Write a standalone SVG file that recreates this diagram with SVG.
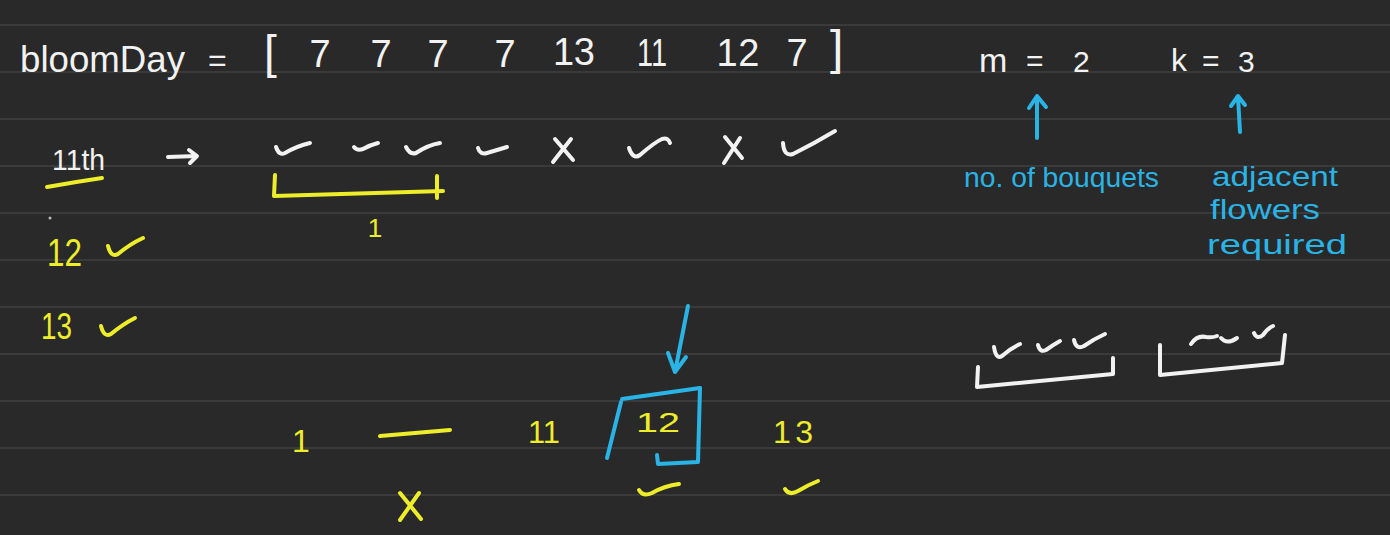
<svg xmlns="http://www.w3.org/2000/svg" width="1390" height="535" viewBox="0 0 1390 535">
<defs>
<style>
.rule{stroke:#3a3a3a;stroke-width:2}
.t{font-family:"Liberation Sans",Arial,sans-serif}
.w{fill:#f2f2f2}
.y{fill:#eded2a}
.b{fill:#2ab4e6}
.sw{fill:none;stroke:#f2f2f2;stroke-width:4;stroke-linecap:round;stroke-linejoin:round}
.sy{fill:none;stroke:#eded2a;stroke-width:4;stroke-linecap:round;stroke-linejoin:round}
.sb{fill:none;stroke:#2ab4e6;stroke-width:4;stroke-linecap:round;stroke-linejoin:round}
</style>
</defs>
<rect width="1390" height="535" fill="#292929"/>
<g id="rules">
<line class="rule" x1="0" y1="25" x2="1390" y2="25"/>
<line class="rule" x1="0" y1="72" x2="1390" y2="72"/>
<line class="rule" x1="0" y1="119" x2="1390" y2="119"/>
<line class="rule" x1="0" y1="166" x2="1390" y2="166"/>
<line class="rule" x1="0" y1="213" x2="1390" y2="213"/>
<line class="rule" x1="0" y1="260" x2="1390" y2="260"/>
<line class="rule" x1="0" y1="307" x2="1390" y2="307"/>
<line class="rule" x1="0" y1="354" x2="1390" y2="354"/>
<line class="rule" x1="0" y1="401" x2="1390" y2="401"/>
<line class="rule" x1="0" y1="448" x2="1390" y2="448"/>
<line class="rule" x1="0" y1="495" x2="1390" y2="495"/>
</g>
<g id="bloomDay">
<text class="t w" x="20" y="72" font-size="37" textLength="165" lengthAdjust="spacingAndGlyphs">bloomDay</text>
<text class="t w" x="208" y="71" font-size="32">=</text>
<text class="t w" x="264" y="68" font-size="46">[</text>
<g font-size="38" text-anchor="middle" class="t w">
<text x="320" y="67">7</text>
<text x="381" y="67">7</text>
<text x="438" y="67">7</text>
<text x="505" y="67">7</text>
<text x="574" y="65" textLength="42">13</text>
<text x="652" y="66" textLength="30" lengthAdjust="spacingAndGlyphs">11</text>
<text x="738" y="66" textLength="43">12</text>
<text x="797" y="66">7</text>
</g>
<text class="t w" x="830" y="64" font-size="48">]</text>
</g>
<g id="params">
<text class="t w" x="979" y="72" font-size="34">m</text>
<text class="t w" x="1026" y="71" font-size="30">=</text>
<text class="t w" x="1073" y="72" font-size="30">2</text>
<text class="t w" x="1171" y="71" font-size="32">k</text>
<text class="t w" x="1202" y="71" font-size="30">=</text>
<text class="t w" x="1238" y="72" font-size="30">3</text>
</g>
<g id="annotations">
<path class="sb" d="M1037 138 L1037 97 M1029 108 L1037 96 L1046 107"/>
<path class="sb" d="M1240 132 L1238 97 M1231 106 L1238 96 L1245 105"/>
<text class="t b" x="964" y="187" font-size="27" textLength="195" lengthAdjust="spacingAndGlyphs">no. of bouquets</text>
<text class="t b" x="1212" y="186" font-size="28" textLength="126" lengthAdjust="spacingAndGlyphs">adjacent</text>
<text class="t b" x="1210" y="219" font-size="28" textLength="110" lengthAdjust="spacingAndGlyphs">flowers</text>
<text class="t b" x="1207" y="254" font-size="28" textLength="140" lengthAdjust="spacingAndGlyphs">required</text>
</g>
<g id="day11">
<text class="t w" x="52" y="170" font-size="30" textLength="53" lengthAdjust="spacingAndGlyphs">11th</text>
<path class="sy" stroke-width="5" d="M47 187 Q75 182 102 178"/>
<path class="sw" stroke-width="3" d="M168 157 L196 156 M189 150 L197 156 L190 163"/>
<path class="sw" d="M276 147 Q279 156 285 153 Q297 146 310 143"/>
<path class="sw" d="M354 147 Q357 151 363 149 Q370 145 378 143"/>
<path class="sw" d="M406 147 Q410 155 416 153 Q428 145 440 143"/>
<path class="sw" d="M478 148 Q480 155 487 153 Q497 150 507 147"/>
<path class="sw" stroke-width="3" d="M555 139 L573 160 M571 139 L553 162"/>
<path class="sw" d="M629 148 Q633 160 640 155 Q655 142 662 139 Q668 137 670 143"/>
<path class="sw" stroke-width="3" d="M725 137 L742 158 M740 138 L724 163"/>
<path class="sw" stroke-width="6" d="M783 143 Q784 157 793 154 Q815 143 835 131"/>
<path class="sy" stroke-width="3" d="M275 175 L274 196 L443 191 M437 176 L437 198"/>
<text class="t y" x="375" y="237" font-size="26" text-anchor="middle">1</text>
<circle cx="50" cy="218" r="1.5" fill="#bbbbbb"/>
</g>
<g id="day12">
<text class="t y" x="47" y="266" font-size="38" textLength="35" lengthAdjust="spacingAndGlyphs">12</text>
<path class="sy" stroke-width="5" d="M108 246 Q111 258 118 254 Q130 244 143 238"/>
</g>
<g id="day13">
<text class="t y" x="41" y="339" font-size="36" textLength="31" lengthAdjust="spacingAndGlyphs">13</text>
<path class="sy" stroke-width="5" d="M101 326 Q104 338 111 334 Q123 324 135 318"/>
</g>
<g id="search">
<text class="t y" x="301" y="452" font-size="32" text-anchor="middle">1</text>
<path class="sy" stroke-width="3" d="M380 436 L450 430"/>
<path class="sy" stroke-width="2.5" d="M400 493 L421 519 M419 493 L400 520"/>
<text class="t y" x="528" y="443" font-size="32" textLength="32" lengthAdjust="spacingAndGlyphs">11</text>
<text class="t y" x="636" y="432" font-size="28" textLength="44" lengthAdjust="spacingAndGlyphs">12</text>
<path class="sb" stroke-width="3.5" d="M688 306 L675 372 M668 353 L675 372 L686 357"/>
<path class="sb" stroke-width="3.5" d="M607 458 L621 402"/>
<path class="sb" stroke-width="3.5" d="M622 399 L700 388"/>
<path class="sb" stroke-width="5" d="M700 388 L698 462 L658 464 L657 455"/>
<path class="sy" stroke-width="4" d="M639 490 Q643 497 652 493 Q664 486 679 484"/>
<text class="t y" x="773" y="443" font-size="32" textLength="40">13</text>
<path class="sy" stroke-width="4" d="M785 489 Q789 496 798 491 Q808 485 818 481"/>
</g>
<g id="bouquets">
<path class="sw" d="M994 347 Q996 360 1002 356 Q1011 348 1020 344"/>
<path class="sw" d="M1038 345 Q1040 353 1046 350 Q1053 345 1060 341"/>
<path class="sw" stroke-width="5" d="M1074 340 Q1076 350 1084 346 Q1094 339 1105 334"/>
<path class="sw" d="M978 367 L977 387 L1113 374 L1113 358"/>
<path class="sw" d="M1191 344 Q1197 335 1206 337 Q1212 338 1217 336"/>
<path class="sw" d="M1221 338 Q1227 345 1237 338"/>
<path class="sw" d="M1254 333 Q1257 340 1263 335 Q1268 328 1273 326"/>
<path class="sw" d="M1160 345 L1160 375 L1282 363 L1285 335"/>
</g>
</svg>
